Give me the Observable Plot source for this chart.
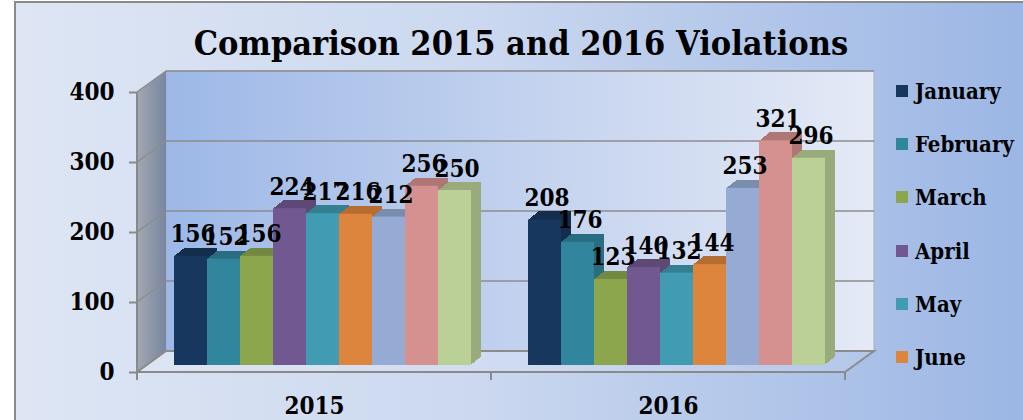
<!DOCTYPE html>
<html>
<head>
<meta charset="utf-8">
<script src="https://cdn.jsdelivr.net/npm/d3@7"></script>
<script src="https://cdn.jsdelivr.net/npm/@observablehq/plot@0.6"></script>
<style>
html, body { margin: 0; padding: 0; background: #ffffff; }
#chart { position: relative; width: 1023px; height: 420px; overflow: hidden; }
#bg { position: absolute; left: 14px; top: 1px; width: 1030px; height: 440px;
      border-left: 2px solid #8a8a8a; border-top: 2px solid #8a8a8a;
      background: linear-gradient(to right, #dee6f4 0%, #cbd8ef 45%, #9ab5e4 100%); }
#title { position: absolute; left: 0; width: 1042px; top: 21px; text-align: center;
         font-family: "DejaVu Serif Condensed", "DejaVu Serif", serif; font-stretch: condensed;
         font-weight: bold; font-size: 34px; line-height: 44px; color: #000; white-space: nowrap; }
#plot { position: absolute; left: 0; top: 0; }
.lg { position: absolute; left: 896px; height: 24px; display: flex; align-items: center;
      font-family: "DejaVu Serif Condensed", "DejaVu Serif", serif; font-stretch: condensed;
      font-weight: bold; font-size: 22px; color: #000; white-space: nowrap; }
.lg .sw { width: 12px; height: 12px; margin-right: 7px; flex: none; }
</style>
</head>
<body>
<div id="chart">
  <div id="bg"></div>
  <div id="title">Comparison 2015 and 2016 Violations</div>
  <div id="plot"></div>
</div>
<script>
// ---- data ----
const years = ["2015", "2016"];
const months = ["January", "February", "March", "April", "May", "June", "July", "August", "September"];
const values2015 = [156, 152, 156, 224, 217, 216, 212, 256, 250];
const values2016 = [208, 176, 123, 140, 132, 144, 253, 321, 296];
const monthColors = ["#17375e", "#31859c", "#8ca64e", "#725890", "#419bb2", "#dd853c", "#95abd3", "#d59090", "#bad096"];
const yTicks = [0, 100, 200, 300, 400];
const legendMonths = months.slice(0, 6);

// ---- table built from the arrays ----
const seriesByYear = {"2015": values2015, "2016": values2016};
const rows = [];
for (const yr of years) months.forEach((m, j) => rows.push({year: yr, month: m, value: seriesByYear[yr][j]}));
const colorOf = Object.fromEntries(months.map((m, i) => [m, monthColors[i]]));
const depthOf = Object.fromEntries(months.map((m, i) => [m, d3.color(monthColors[i]).darker(0.55).formatHex()]));

const FONT = '"DejaVu Serif Condensed", "DejaVu Serif", serif';
const BAR_DX = 8, BAR_DY = -7;      // bar front face offset (mid depth)
const DEP_X = 10, DEP_Y = -8;       // bar depth
const WALL_DX = 29, WALL_DY = -21;  // back wall offset

// extruded depth of the bars: the same bars, stepped back one pixel at a time
const depthMarks = d3.range(DEP_X, 0, -1).map(k =>
  Plot.barY(rows, {x: "month", y: "value", fill: d => depthOf[d.month],
    dx: BAR_DX + k, dy: BAR_DY + DEP_Y * k / DEP_X, inset: 0, shapeRendering: "crispEdges"}));

const plot = Plot.plot({
  width: 1023, height: 420,
  marginLeft: 137, marginRight: 178, marginTop: 92, marginBottom: 48,
  style: {background: "transparent", fontFamily: FONT, fontWeight: "bold", fontSize: "24px", color: "#000", fontStretch: "condensed"},
  facet: {data: rows, x: "year"},
  fx: {domain: years, padding: 0},
  x: {domain: months, paddingInner: 0, paddingOuter: 0.757},
  y: {domain: [0, 400]},
  marks: [
    Plot.axisY({ticks: yTicks, tickSize: 8, tickPadding: 15, stroke: "#8a8a8a", strokeWidth: 2, fill: "#000", label: null, fontSize: 24, fontWeight: "bold"}),
    Plot.axisFx({anchor: "bottom", tickSize: 0, tickPadding: 24, label: null, fill: "#000", fontSize: 24, fontWeight: "bold"}),
    Plot.axisX({ticks: [], label: null, tickSize: 0}),
    ...depthMarks,
    Plot.barY(rows, {x: "month", y: "value", fill: d => colorOf[d.month], dx: BAR_DX, dy: BAR_DY, inset: 0}),
    Plot.text(rows, {x: "month", y: "value", text: d => String(d.value), dx: BAR_DX + 2, dy: BAR_DY - 14,
      lineAnchor: "bottom", fontSize: 24, fontWeight: "bold", fill: "#000"})
  ]
});
document.getElementById("plot").appendChild(plot);

// ---- 3D walls, floor and axis lines through Plot's scales ----
const ys = plot.scale("y"), fxs = plot.scale("fx");
const yv = v => ys.apply(v);
const L = fxs.apply(years[0]);
const BW = fxs.bandwidth;
const R = fxs.apply(years[years.length - 1]) + BW;
const y0 = yv(0), yTop = yv(d3.max(yTicks));
const svg = d3.select(plot);
const deco = svg.insert("g", ":first-child");
const defs = svg.insert("defs", ":first-child");
const gw = defs.append("linearGradient").attr("id", "wallGrad").attr("x1", 0).attr("x2", 1).attr("y1", 0).attr("y2", 0);
gw.append("stop").attr("offset", 0).attr("stop-color", "#9db8e7");
gw.append("stop").attr("offset", 0.55).attr("stop-color", "#c6d4ef");
gw.append("stop").attr("offset", 1).attr("stop-color", "#e4eaf6");
const gs = defs.append("linearGradient").attr("id", "sideGrad").attr("x1", 0).attr("x2", 1).attr("y1", 0).attr("y2", 0);
gs.append("stop").attr("offset", 0).attr("stop-color", "#a3a8b1");
gs.append("stop").attr("offset", 1).attr("stop-color", "#7886a0");

const pts = a => a.map(p => p.join(",")).join(" ");
// back wall
deco.append("rect").attr("x", L + WALL_DX).attr("y", yTop + WALL_DY).attr("width", R - L).attr("height", y0 - yTop)
  .attr("fill", "url(#wallGrad)").attr("stroke", "#a9b0bd").attr("stroke-width", 1);
// left wall
deco.append("polygon").attr("points", pts([[L, y0], [L + WALL_DX, y0 + WALL_DY], [L + WALL_DX, yTop + WALL_DY], [L, yTop]]))
  .attr("fill", "url(#sideGrad)");
// floor
deco.append("polygon").attr("points", pts([[L, y0], [R, y0], [R + WALL_DX, y0 + WALL_DY], [L + WALL_DX, y0 + WALL_DY]]))
  .attr("fill", "#ffffff").attr("fill-opacity", 0.12).attr("stroke", "#8c8c8c").attr("stroke-width", 2);
// gridlines
for (const t of yTicks) {
  const yy = yv(t);
  deco.append("line").attr("x1", L + WALL_DX).attr("x2", R + WALL_DX).attr("y1", yy + WALL_DY).attr("y2", yy + WALL_DY)
    .attr("stroke", "#8c8c8c").attr("stroke-width", 1.5);
  deco.append("line").attr("x1", L).attr("x2", L + WALL_DX).attr("y1", yy).attr("y2", yy + WALL_DY)
    .attr("stroke", "#8c8c8c").attr("stroke-width", 1.5);
}
// front axis lines
deco.append("line").attr("x1", L).attr("x2", L).attr("y1", y0 + 8).attr("y2", yTop).attr("stroke", "#8a8a8a").attr("stroke-width", 2);
deco.append("line").attr("x1", L).attr("x2", R).attr("y1", y0).attr("y2", y0).attr("stroke", "#8a8a8a").attr("stroke-width", 2);
for (let i = 0; i <= years.length; i++) {
  const xx = L + i * BW;
  deco.append("line").attr("x1", xx).attr("x2", xx).attr("y1", y0).attr("y2", y0 + 8).attr("stroke", "#8a8a8a").attr("stroke-width", 2);
}

// ---- legend (only the visible entries) ----
const chart = document.getElementById("chart");
const rowTop0 = 79, rowStep = 53.2;
legendMonths.forEach((m, i) => {
  const d = document.createElement("div");
  d.className = "lg";
  d.style.top = (rowTop0 + i * rowStep) + "px";
  d.innerHTML = `<span class="sw" style="background:${colorOf[m]}"></span><span>${m}</span>`;
  chart.appendChild(d);
});
</script>
</body>
</html>
